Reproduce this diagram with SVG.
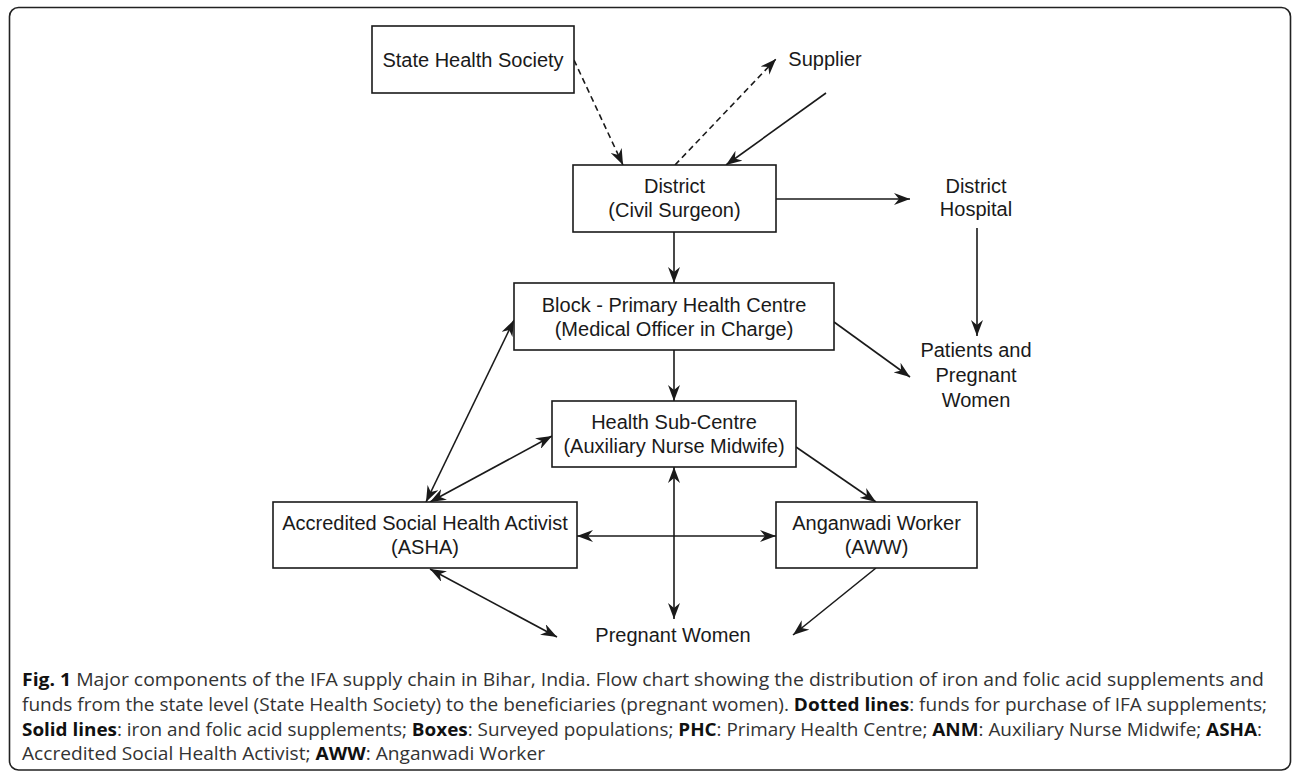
<svg xmlns="http://www.w3.org/2000/svg" width="1293" height="772" viewBox="0 0 1293 772">
<style>
.box{fill:#fff;stroke:#1a1a1a;stroke-width:1.6}
.lbl{font-family:"Liberation Sans",Arial,sans-serif;font-size:20px;fill:#1a1a1a;text-anchor:middle}
.ln{stroke:#1a1a1a;stroke-width:1.6;fill:none}
.dash{stroke-dasharray:6 4}
.cap{font-family:"Open Sans","Noto Sans",sans-serif;font-size:18px;fill:#333}
.b{font-weight:bold;fill:#111}
</style>
<defs>
<marker id="ah" viewBox="0 0 16 12" refX="16" refY="6" markerWidth="16" markerHeight="12" markerUnits="userSpaceOnUse" orient="auto-start-reverse">
<path d="M0,0 L16,6 L0,12 L5,6 z" fill="#1a1a1a"/>
</marker>
</defs>
<rect x="9.5" y="7.5" width="1281" height="762.5" rx="9" fill="none" stroke="#222" stroke-width="1.6"/>

<g id="connectors">
<line class="ln dash" x1="574" y1="60" x2="623" y2="165" marker-end="url(#ah)"/>
<line class="ln dash" x1="675" y1="165" x2="776" y2="59" marker-end="url(#ah)"/>
<line class="ln" x1="826" y1="93" x2="726" y2="165" marker-end="url(#ah)"/>
<line class="ln" x1="776" y1="199" x2="910" y2="199" marker-end="url(#ah)"/>
<line class="ln" x1="977" y1="228" x2="977" y2="336" marker-end="url(#ah)"/>
<line class="ln" x1="674" y1="232" x2="674" y2="283" marker-end="url(#ah)"/>
<line class="ln" x1="834" y1="322" x2="910" y2="377" marker-end="url(#ah)"/>
<line class="ln" x1="674" y1="350" x2="674" y2="401" marker-end="url(#ah)"/>
<line class="ln" x1="514" y1="320" x2="426" y2="502" marker-start="url(#ah)" marker-end="url(#ah)"/>
<line class="ln" x1="552" y1="436" x2="430" y2="502" marker-start="url(#ah)" marker-end="url(#ah)"/>
<line class="ln" x1="796" y1="447" x2="876" y2="502" marker-end="url(#ah)"/>
<line class="ln" x1="577" y1="536" x2="776" y2="536" marker-start="url(#ah)" marker-end="url(#ah)"/>
<line class="ln" x1="674" y1="467" x2="674" y2="619" marker-start="url(#ah)" marker-end="url(#ah)"/>
<line class="ln" x1="430" y1="569" x2="557" y2="637" marker-start="url(#ah)" marker-end="url(#ah)"/>
<line class="ln" x1="876" y1="568" x2="793" y2="635" marker-end="url(#ah)"/>
</g>

<g id="shs">
<rect class="box" x="372" y="26" width="202" height="67"/>
<text class="lbl" x="473" y="67">State Health Society</text>
</g>
<g id="supplier">
<text class="lbl" x="825" y="66">Supplier</text>
</g>
<g id="district">
<rect class="box" x="573" y="165" width="203" height="67"/>
<text class="lbl" x="674.5" y="193">District</text>
<text class="lbl" x="674.5" y="217">(Civil Surgeon)</text>
</g>
<g id="district-hospital">
<text class="lbl" x="976" y="193">District</text>
<text class="lbl" x="976" y="216">Hospital</text>
</g>
<g id="block-phc">
<rect class="box" x="514" y="283" width="320" height="67"/>
<text class="lbl" x="674" y="312">Block - Primary Health Centre</text>
<text class="lbl" x="674" y="336">(Medical Officer in Charge)</text>
</g>
<g id="patients">
<text class="lbl" x="976" y="357">Patients and</text>
<text class="lbl" x="976" y="382">Pregnant</text>
<text class="lbl" x="976" y="407">Women</text>
</g>
<g id="hsc">
<rect class="box" x="552" y="401" width="244" height="66"/>
<text class="lbl" x="674" y="429">Health Sub-Centre</text>
<text class="lbl" x="674" y="453">(Auxiliary Nurse Midwife)</text>
</g>
<g id="asha">
<rect class="box" x="273" y="502" width="304" height="66"/>
<text class="lbl" x="425" y="530">Accredited Social Health Activist</text>
<text class="lbl" x="425" y="554">(ASHA)</text>
</g>
<g id="aww">
<rect class="box" x="776" y="502" width="201" height="66"/>
<text class="lbl" x="876.5" y="530">Anganwadi Worker</text>
<text class="lbl" x="876.5" y="554">(AWW)</text>
</g>
<g id="pregnant-women">
<text class="lbl" x="673" y="642">Pregnant Women</text>
</g>

<g id="caption">
<text class="cap" x="22" y="686" textLength="1242" lengthAdjust="spacingAndGlyphs"><tspan class="b">Fig. 1</tspan> Major components of the IFA supply chain in Bihar, India. Flow chart showing the distribution of iron and folic acid supplements and</text>
<text class="cap" x="22" y="711" textLength="1245" lengthAdjust="spacingAndGlyphs">funds from the state level (State Health Society) to the beneficiaries (pregnant women). <tspan class="b">Dotted lines</tspan>: funds for purchase of IFA supplements;</text>
<text class="cap" x="22" y="736" textLength="1240" lengthAdjust="spacingAndGlyphs"><tspan class="b">Solid lines</tspan>: iron and folic acid supplements; <tspan class="b">Boxes</tspan>: Surveyed populations; <tspan class="b">PHC</tspan>: Primary Health Centre; <tspan class="b">ANM</tspan>: Auxiliary Nurse Midwife; <tspan class="b">ASHA</tspan>:</text>
<text class="cap" x="22" y="760" textLength="523" lengthAdjust="spacingAndGlyphs">Accredited Social Health Activist; <tspan class="b">AWW</tspan>: Anganwadi Worker</text>
</g>
</svg>
